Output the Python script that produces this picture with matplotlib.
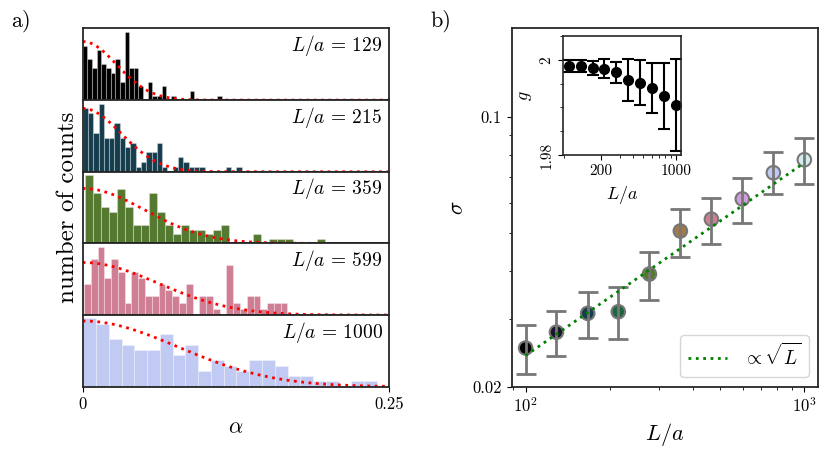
import matplotlib
matplotlib.use("Agg")
import matplotlib.pyplot as plt
import matplotlib.ticker as mtick
import numpy as np

# fonts close to the LaTeX look of the original
plt.rcParams['font.family'] = 'serif'
plt.rcParams['font.serif'] = ['cmr10']
plt.rcParams['mathtext.fontset'] = 'cm'
plt.rcParams['axes.formatter.use_mathtext'] = True

# ---- data : panel a) histograms (counts per bin) ----
hist_L = [129, 215, 359, 599, 1000]
counts_129 = [12, 9, 7, 11, 8, 7, 6, 9, 4, 15, 7, 7, 3, 0, 4, 1, 1, 3, 0, 1, 0, 0, 0, 2, 0, 0, 0, 0, 0, 1]
counts_215 = [13, 12, 8, 14, 7, 7, 10, 7, 5, 6, 1, 2, 4, 4, 6, 1, 0, 1, 3, 2, 1, 1, 1, 0, 0, 0, 0, 1, 0, 1]
counts_359 = [15, 11, 8, 7, 12, 8, 4, 4, 11, 7, 4, 2, 4, 3, 3, 2, 3, 4, 0, 0, 0, 2, 0, 1, 1, 1, 0, 0, 0, 1]
counts_599 = [5, 9, 11, 6, 9, 7, 2, 7, 6, 3, 3, 5, 4, 3, 2, 5, 0, 3, 3, 1, 0, 8, 2, 1, 3, 3, 1, 2, 2, 2]
counts_1000 = [13, 12, 9, 8, 7, 7, 10, 6, 8, 3, 5, 4, 3, 5, 5, 4, 2, 2, 1, 1, 0, 1, 1]
hist_counts = [counts_129, counts_215, counts_359, counts_599, counts_1000]
bin_start = [0.0, 0.0, 0.0021, 0.0011, 0.0005]
bin_width = [0.00379, 0.00432, 0.00651, 0.00553, 0.01041]

# ---- data : panel b) sigma vs L ----
L_vals = [100, 129, 167, 215, 278, 359, 464, 599, 774, 1000]
sigma = [0.0252, 0.0277, 0.0310, 0.0313, 0.0392, 0.0507, 0.0544, 0.0614, 0.0718, 0.0776]
sigma_lo = [0.0216, 0.0240, 0.0267, 0.0266, 0.0335, 0.0435, 0.0469, 0.0532, 0.0631, 0.0673]
sigma_hi = [0.0290, 0.0315, 0.0353, 0.0362, 0.0448, 0.0578, 0.0617, 0.0697, 0.0811, 0.0884]
sqrt_coef = 0.0241  # sigma at L/a = 100 for the sqrt(L) guide

# inset : g vs L
g_vals = [1.99874, 1.99874, 1.99825, 1.99811, 1.99741, 1.99579, 1.99522, 1.99404, 1.99242, 1.99053]
g_err = [0.0013, 0.0013, 0.0014, 0.0020, 0.0022, 0.0044, 0.0047, 0.0053, 0.0070, 0.0096]

fig = plt.figure(figsize=(8.3, 4.59), dpi=100)
cmap = plt.get_cmap('cubehelix')
hist_colors = cmap(np.linspace(0, 0.8, 5))

left_a = 0.0996
width = 0.3694
bottom = 0.1575
top = 0.938
h = (top - bottom) / 5

alpha_grid = np.linspace(0, 0.25, 400)
log_xlim = (10**1.95, 10**3.05)

for i in range(5):
    ax = fig.add_axes([left_a, top - (i + 1) * h, width, h])
    counts = np.array(hist_counts[i])
    edges = bin_start[i] + bin_width[i] * np.arange(len(counts) + 1)
    ax.hist(edges[:-1], bins=edges, weights=counts, color=hist_colors[i],
            edgecolor=(1, 1, 1, 0.3), linewidth=0.8)
    # half-gaussian with the width from panel b)
    s = sigma[L_vals.index(hist_L[i])]
    amp = counts.sum() * bin_width[i] * 2 / (s * np.sqrt(2 * np.pi))
    ax.plot(alpha_grid, amp * np.exp(-alpha_grid**2 / (2 * s**2)), ':', color='red', lw=2)
    ax.set_xlim(0, 0.25)
    ax.set_yticks([])
    ax.text(0.978, 0.76, r'$L/a\,=\,%d$' % hist_L[i], transform=ax.transAxes,
            ha='right', va='center', fontsize=14)
    for sp in ax.spines.values():
        sp.set_linewidth(1.3)
        sp.set_color('0.15')
    if i < 4:
        ax.tick_params(bottom=False, labelbottom=False)
    else:
        ax.set_xticks([0, 0.25])
        ax.set_xticklabels(['0', '0.25'])
        ax.tick_params(labelsize=12)
        ax.set_xlabel(r'$\alpha$', fontsize=16)

fig.text(0.082, (top + bottom) / 2, 'number of counts', rotation=90,
         ha='center', va='center', fontsize=18)
fig.text(0.014, 0.955, 'a)', fontsize=16, va='center')
fig.text(0.519, 0.955, 'b)', fontsize=16, va='center')

# ---- panel b) ----
ax2 = fig.add_axes([0.6165, bottom, width, top - bottom])
ax2.set_xscale('log')
ax2.set_yscale('log')
sig = np.array(sigma)
yerr = [sig - np.array(sigma_lo), np.array(sigma_hi) - sig]
ax2.scatter(L_vals, sigma, s=95, c=cmap(np.arange(10) / 10), edgecolors='#777777',
            linewidths=1.5, zorder=2)
ax2.errorbar(L_vals, sigma, yerr=yerr, fmt='none', ecolor='#777777', elinewidth=2,
             capsize=7, capthick=2, zorder=3)
L_fit = np.linspace(L_vals[0], L_vals[-1], 200)
ax2.plot(L_fit, sqrt_coef * np.sqrt(L_fit / L_vals[0]), ':', color='green', lw=2,
         label=r'$\propto\sqrt{L}$', zorder=4)
ax2.set_xlim(*log_xlim)
ax2.set_ylim(0.02, 0.17)
ax2.set_yticks([0.02, 0.1])
ax2.set_yticklabels(['0.02', '0.1'])
ax2.yaxis.set_minor_formatter(mtick.NullFormatter())
ax2.xaxis.set_minor_formatter(mtick.NullFormatter())
ax2.tick_params(labelsize=12)
ax2.set_xlabel(r'$L/a$', fontsize=16)
ax2.set_ylabel(r'$\sigma$', fontsize=16)
ax2.legend(loc='lower right', fontsize=14)
for sp in ax2.spines.values():
    sp.set_linewidth(1.3)
    sp.set_color('0.15')

# inset
axins = fig.add_axes([0.6787, 0.6623, 0.1418, 0.2593])
axins.set_xscale('log')
axins.errorbar(L_vals, g_vals, yerr=g_err, fmt='o', color='k', ms=7, lw=1.5,
               capsize=4, capthick=1.5)
axins.set_xlim(*log_xlim)
axins.set_ylim(1.98, 2.005)
axins.set_yticks([1.98, 2.0])
axins.set_yticklabels(['1.98', '2'], rotation=90, va='center')
axins.yaxis.set_minor_locator(mtick.MultipleLocator(0.005))
axins.set_xticks([200, 1000])
axins.set_xticklabels(['200', '1000'])
axins.xaxis.set_minor_formatter(mtick.NullFormatter())
axins.tick_params(labelsize=11)
axins.set_xlabel(r'$L/a$', fontsize=13)
axins.set_ylabel(r'$g$', fontsize=13)
for sp in axins.spines.values():
    sp.set_linewidth(1.2)
    sp.set_color('0.15')

fig.savefig('out.png', dpi=100)
